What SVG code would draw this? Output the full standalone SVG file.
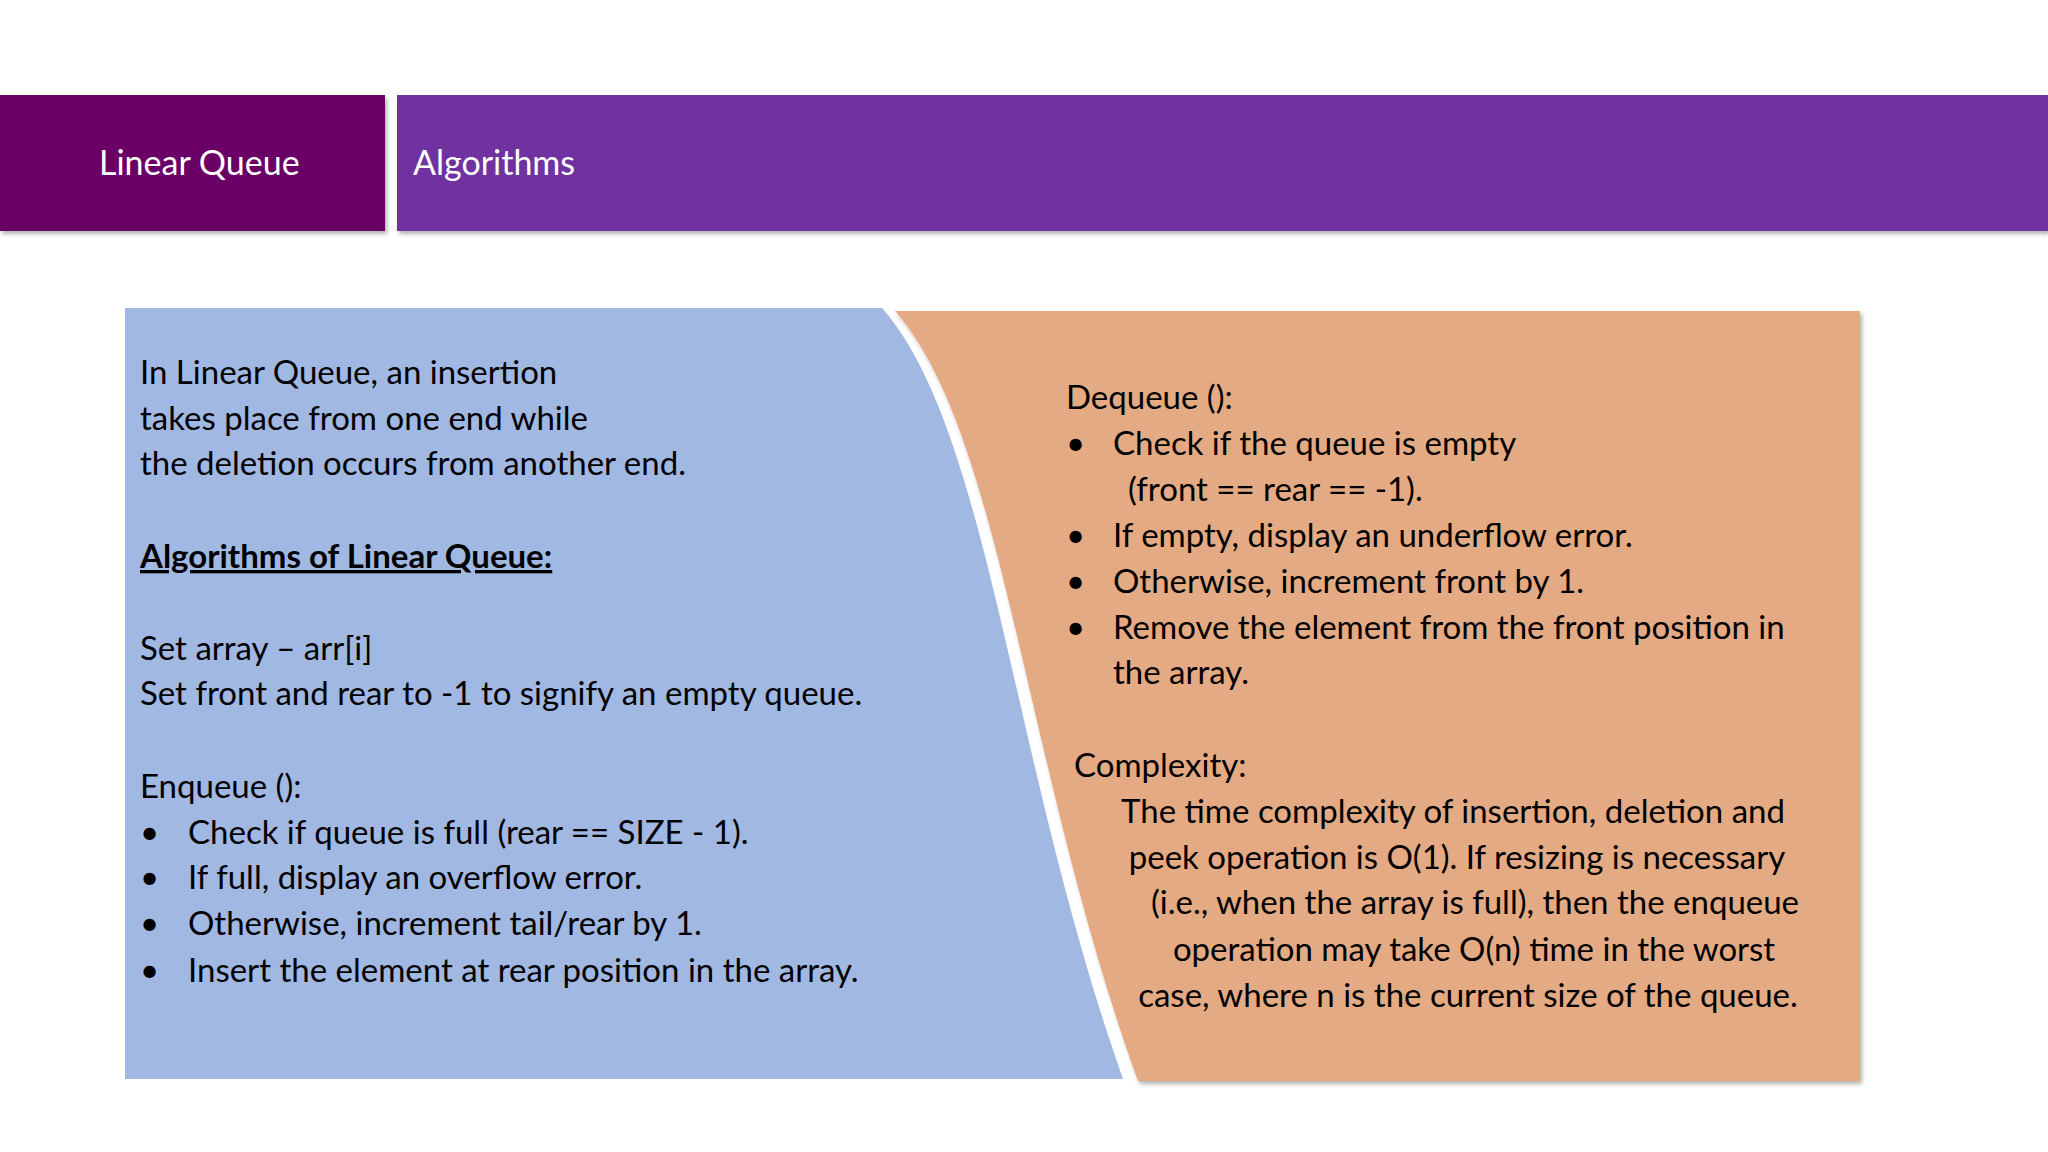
<svg xmlns="http://www.w3.org/2000/svg" width="2048" height="1152" viewBox="0 0 2048 1152">
<defs><style>
.t{font-family:Lato,"Open Sans",sans-serif;font-size:33px;fill:#000}
.h{font-family:Lato,"Open Sans",sans-serif;font-size:34px;fill:#fff}
</style>
<filter id="sh" x="-5%" y="-5%" width="110%" height="115%"><feDropShadow dx="2" dy="3" stdDeviation="2" flood-color="#000" flood-opacity="0.3"/></filter></defs>
<rect width="2048" height="1152" fill="#fff"/>
<g id="header">
<rect x="0" y="95" width="385" height="136" fill="#6a0066" filter="url(#sh)"/>
<rect x="397" y="95" width="1651" height="136" fill="#7030a0" filter="url(#sh)"/>
<text class="h" x="99" y="175">Linear Queue</text>
<text class="h" x="413" y="175">Algorithms</text>
</g>
<g id="left">
<path d="M125,308 L882,308 C990,430 1010,760 1123,1079 L125,1079 Z" fill="#a0b8e2"/>
<text class="t" x="140" y="384">In Linear Queue, an insertion</text>
<text class="t" x="140" y="430">takes place from one end while</text>
<text class="t" x="140" y="475">the deletion occurs from another end.</text>
<text class="t" x="140" y="568" font-weight="bold" text-decoration="underline">Algorithms of Linear Queue:</text>
<text class="t" x="140" y="660">Set array – arr[i]</text>
<text class="t" x="140" y="705">Set front and rear to -1 to signify an empty queue.</text>
<text class="t" x="140" y="798">Enqueue ():</text>
<g class="t"><text x="140" y="844">•</text><text x="140" y="889">•</text><text x="140" y="935">•</text><text x="140" y="982">•</text></g>
<text class="t" x="188" y="844">Check if queue is full (rear == SIZE - 1).</text>
<text class="t" x="188" y="889">If full, display an overflow error.</text>
<text class="t" x="188" y="935">Otherwise, increment tail/rear by 1.</text>
<text class="t" x="188" y="982">Insert the element at rear position in the array.</text>
</g>
<g id="right">
<path d="M895,311 L1860,311 L1860,1081 L1138,1081 C1023,763 1003,433 895,311 Z" fill="#e4aa84" filter="url(#sh)"/>
<text class="t" x="1066" y="409">Dequeue ():</text>
<g class="t"><text x="1066" y="455">•</text><text x="1066" y="547">•</text><text x="1066" y="593">•</text><text x="1066" y="639">•</text></g>
<text class="t" x="1113" y="455">Check if the queue is empty</text>
<text class="t" x="1128" y="501">(front == rear == -1).</text>
<text class="t" x="1113" y="547">If empty, display an underflow error.</text>
<text class="t" x="1113" y="593">Otherwise, increment front by 1.</text>
<text class="t" x="1113" y="639">Remove the element from the front position in</text>
<text class="t" x="1113" y="684">the array.</text>
<text class="t" x="1074" y="777">Complexity:</text>
<g class="t" text-anchor="middle">
<text x="1453" y="823">The time complexity of insertion, deletion and</text>
<text x="1457" y="869">peek operation is O(1). If resizing is necessary</text>
<text x="1475" y="914">(i.e., when the array is full), then the enqueue</text>
<text x="1474" y="961">operation may take O(n) time in the worst</text>
<text x="1468" y="1007">case, where n is the current size of the queue.</text>
</g>
</g>
</svg>
